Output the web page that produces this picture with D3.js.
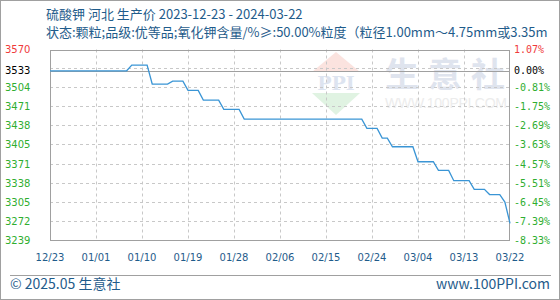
<!DOCTYPE html>
<html>
<head>
<meta charset="utf-8">
<script src="https://cdn.jsdelivr.net/npm/d3@7"></script>
<style>
    body { margin: 0; background: #fff; }
    svg { display: block; font-family: "Noto Sans CJK SC", "Noto Sans", sans-serif; }
</style>
</head>
<body>
<div id="chart"></div>
<script>
const dates = ["2023-12-23", "2024-01-07", "2024-01-08", "2024-01-11", "2024-01-12", "2024-01-15",
    "2024-01-16", "2024-01-18", "2024-01-19", "2024-01-21", "2024-01-22", "2024-01-25",
    "2024-01-26", "2024-01-29", "2024-01-30", "2024-02-22", "2024-02-23", "2024-02-25",
    "2024-02-26", "2024-02-27", "2024-02-28", "2024-03-03", "2024-03-04", "2024-03-07",
    "2024-03-08", "2024-03-10", "2024-03-11", "2024-03-14", "2024-03-15", "2024-03-17",
    "2024-03-18", "2024-03-20", "2024-03-21", "2024-03-22"]
const prices = [3533, 3533, 3543, 3543, 3510, 3510,
    3515, 3515, 3499, 3499, 3482, 3482,
    3466, 3466, 3449, 3449, 3433, 3433,
    3416, 3416, 3401, 3401, 3375, 3375,
    3360, 3360, 3342, 3342, 3327, 3327,
    3318, 3318, 3305, 3268]

const xTickDates = ["2023-12-23", "2024-01-01", "2024-01-10", "2024-01-19", "2024-01-28", "2024-02-06",
    "2024-02-15", "2024-02-24", "2024-03-04", "2024-03-13", "2024-03-22"]
const yTicks = [3570, 3533, 3504, 3471, 3438, 3405, 3371, 3338, 3305, 3272, 3239]
const pctTicks = ["1.07%", "0.00%", "-0.81%", "-1.75%", "-2.69%", "-3.63%", "-4.57%", "-5.51%", "-6.45%", "-7.39%", "-8.33%"]
const yGrid = [3272, 3305, 3338, 3371, 3405, 3438, 3471, 3504, 3537]
const basePrice = 3533

const title = "硫酸钾 河北 生产价 2023-12-23 - 2024-03-22"
const subtitle = "状态:颗粒;品级:优等品;氧化钾含量/%≥:50.00%粒度（粒径1.00mm～4.75mm或3.35m"

const W = 560, H = 300
const margin = { left: 50, right: 50, top: 49.5, bottom: 60 }
const parse = d3.timeParse("%Y-%m-%d")
const fmt = d3.timeFormat("%m/%d")
const data = dates.map((d, i) => ({ date: parse(d), value: prices[i] }))

const svg = d3.select("#chart")
    .append("svg")
    .attr("width", W)
    .attr("height", H)

/* OUTER FRAME */
svg.append("rect")
    .attr("x", 0.5).attr("y", 0.5)
    .attr("width", W - 1).attr("height", H - 1)
    .attr("fill", "#fff")
    .attr("stroke", "#a0a0a0")

/* TITLES */
svg.append("text")
    .attr("x", 46).attr("y", 19)
    .attr("font-size", 13)
    .attr("fill", "#1f5c8b")
    .text(title)
svg.append("text")
    .attr("x", 46).attr("y", 37)
    .attr("font-size", 13)
    .attr("fill", "#1f5c8b")
    .text(subtitle)

const x = d3.scaleTime()
    .domain([parse(xTickDates[0]), parse(xTickDates[xTickDates.length - 1])])
    .range([margin.left, W - margin.right])
const y = d3.scaleLinear()
    .domain([d3.min(yTicks), d3.max(yTicks)])
    .range([H - margin.bottom, margin.top])

/* WATERMARK */
const wm = svg.append("g")
wm.append("path")
    .attr("d", "M336,52 L312,72 L360,72 Z")
    .attr("fill", "#fbe3df")
wm.append("text")
    .attr("x", 336).attr("y", 90)
    .attr("text-anchor", "middle")
    .attr("font-family", "DejaVu Serif")
    .attr("font-weight", "bold")
    .attr("font-size", 19)
    .attr("fill", "#dde4f0")
    .text("PPI")
wm.append("path")
    .attr("d", "M312,93 L360,93 L336,115 Z")
    .attr("fill", "#e0f3e2")
wm.selectAll(".wm-char")
    .data(["生", "意", "社"])
    .enter()
    .append("text")
    .attr("x", (d, i) => 385 + i * 43)
    .attr("y", 87)
    .attr("font-size", 34)
    .attr("font-weight", "bold")
    .attr("fill", "#dfe4ee")
    .text(d => d)
wm.append("text")
    .attr("x", 385).attr("y", 108)
    .attr("font-family", "Liberation Sans")
    .attr("font-size", 14)
    .attr("textLength", 122)
    .attr("fill", "#ececec")
    .text("WWW.100PPI.COM")

/* GRID LINES */
svg.selectAll(".grid-y")
    .data(yGrid)
    .enter()
    .append("line")
    .attr("x1", margin.left).attr("x2", W - margin.right)
    .attr("y1", d => Math.round(y(d)) + 0.5)
    .attr("y2", d => Math.round(y(d)) + 0.5)
    .attr("stroke", "#c8c8c8")
    .attr("stroke-dasharray", "3,3")

svg.selectAll(".grid-x")
    .data(xTickDates.slice(1, -1))
    .enter()
    .append("line")
    .attr("x1", d => Math.round(x(parse(d))) + 0.5)
    .attr("x2", d => Math.round(x(parse(d))) + 0.5)
    .attr("y1", margin.top).attr("y2", H - margin.bottom)
    .attr("stroke", "#c8c8c8")
    .attr("stroke-dasharray", "3,3")

/* BASE LINE */
svg.append("line")
    .attr("x1", margin.left).attr("x2", W - margin.right)
    .attr("y1", Math.round(y(basePrice)) + 0.5)
    .attr("y2", Math.round(y(basePrice)) + 0.5)
    .attr("stroke", "#a0a0a0")

/* PLOT FRAME */
svg.append("rect")
    .attr("x", margin.left + 0.5).attr("y", Math.round(margin.top) + 0.5)
    .attr("width", W - margin.left - margin.right - 1)
    .attr("height", H - margin.bottom - Math.round(margin.top))
    .attr("fill", "none")
    .attr("stroke", "#a0a0a0")

/* LINE */
svg.append("path")
    .datum(data)
    .attr("fill", "none")
    .attr("stroke", "#3a95d5")
    .attr("stroke-width", 1.3)
    .attr("d", d3.line().x(d => x(d.date)).y(d => y(d.value)))

/* Y LABELS */
const labelColor = (d, i) => i === 0 ? "#f03a3a" : (yTicks[i] === basePrice ? "#000" : "#2fae2f")
svg.selectAll(".ylab")
    .data(yTicks)
    .enter()
    .append("text")
    .attr("x", 5)
    .attr("y", d => y(d))
    .attr("dy", "0.35em")
    .attr("font-family", "DejaVu Sans")
    .attr("font-size", 10)
    .attr("fill", labelColor)
    .text(d => d)

svg.selectAll(".pctlab")
    .data(pctTicks)
    .enter()
    .append("text")
    .attr("x", 514)
    .attr("y", (d, i) => y(yTicks[i]))
    .attr("dy", "0.35em")
    .attr("font-family", "DejaVu Sans Mono")
    .attr("font-size", 10)
    .attr("fill", labelColor)
    .text(d => d)

/* X LABELS */
svg.selectAll(".xlab")
    .data(xTickDates)
    .enter()
    .append("text")
    .attr("x", d => x(parse(d)))
    .attr("y", 261)
    .attr("text-anchor", "middle")
    .attr("font-family", "DejaVu Sans")
    .attr("font-size", 10)
    .attr("fill", "#1f5c8b")
    .text(d => fmt(parse(d)))

/* FOOTER */
svg.append("line")
    .attr("x1", 10).attr("x2", 551)
    .attr("y1", 275.5).attr("y2", 275.5)
    .attr("stroke", "#a0a0a0")
svg.append("text")
    .attr("x", 10).attr("y", 289)
    .attr("font-size", 14)
    .attr("fill", "#1f5c8b")
    .text("© 2025.05 生意社")
svg.append("text")
    .attr("x", 550).attr("y", 289)
    .attr("text-anchor", "end")
    .attr("font-size", 14)
    .attr("fill", "#1f5c8b")
    .text("www.100PPI.com")
</script>
</body>
</html>
